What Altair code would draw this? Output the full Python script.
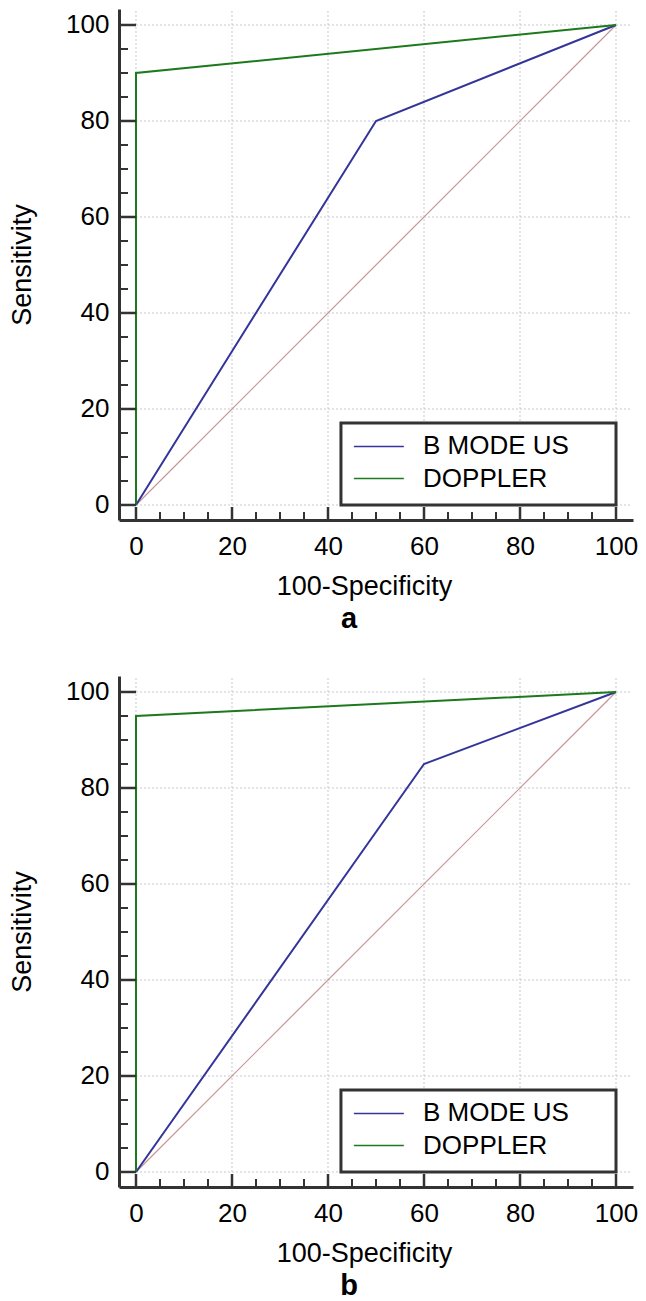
import altair as alt
import pandas as pd

# ---------------- data ----------------
SERIES = ["B MODE US", "DOPPLER"]
SERIES_COLORS = ["#34349a", "#1c7a1c"]

A_BMODE_X = [0, 50, 100]
A_BMODE_Y = [0, 80, 100]
A_DOPPLER_X = [0, 0, 100]
A_DOPPLER_Y = [0, 90, 100]

B_BMODE_X = [0, 60, 100]
B_BMODE_Y = [0, 85, 100]
B_DOPPLER_X = [0, 0, 100]
B_DOPPLER_Y = [0, 95, 100]

DIAG_X = [0]
DIAG_Y = [0]
DIAG_X2 = [100]
DIAG_Y2 = [100]

MAJOR = [0, 20, 40, 60, 80, 100]
MINOR = [5, 10, 15, 25, 30, 35, 45, 50, 55, 65, 70, 75, 85, 90, 95]

PANEL_LABELS = ["a", "b"]
X_TITLE = "100-Specificity"
Y_TITLE = "Sensitivity"

# ---------------- layout / style ----------------
W = 514
H = 511
X_DOMAIN = [-3.54, 103.54]
Y_DOMAIN = [-3.13, 103.33]
GRID_RIGHT = 103.0
GRID_TOP = 103.33
LEG_X0, LEG_X1, LEG_TOP = 42.7, 100.0, 17.1
LEG_LINE_X0, LEG_LINE_X1, LEG_TEXT_X = 45.4, 55.8, 59.8
LEG_ROWS = [12.2, 5.5]
FONT = "Liberation Sans"
AXIS_COLOR = "#333333"
GRID_COLOR = "#c8c8d0"
DIAG_COLOR = "#c89494"

xscale = alt.Scale(domain=X_DOMAIN, nice=False, zero=False)
yscale = alt.Scale(domain=Y_DOMAIN, nice=False, zero=False)
xaxis = alt.Axis(values=MAJOR, format="d", labelPadding=13, titlePadding=14,
                 titleX=245)
yaxis = alt.Axis(values=MAJOR, format="d", labelPadding=10, titlePadding=29)
colscale = alt.Scale(domain=SERIES, range=SERIES_COLORS)


def make_panel(bx, by, dx, dy, label):
    X = alt.X("x:Q", scale=xscale, axis=xaxis, title=X_TITLE)
    Y = alt.Y("y:Q", scale=yscale, axis=yaxis, title=Y_TITLE)

    vgrid = pd.DataFrame({"x": MAJOR, "y": [0] * len(MAJOR), "y2": [GRID_TOP] * len(MAJOR)})
    hgrid = pd.DataFrame({"y": MAJOR, "x": [0] * len(MAJOR), "x2": [GRID_RIGHT] * len(MAJOR)})
    grid_v = alt.Chart(vgrid).mark_rule(stroke=GRID_COLOR, strokeDash=[2, 2], strokeWidth=1).encode(
        x=X, y=Y, y2="y2:Q")
    grid_h = alt.Chart(hgrid).mark_rule(stroke=GRID_COLOR, strokeDash=[2, 2], strokeWidth=1).encode(
        y=Y, x=X, x2="x2:Q")

    diag = alt.Chart(pd.DataFrame({"x": DIAG_X, "y": DIAG_Y, "x2": DIAG_X2, "y2": DIAG_Y2})).mark_rule(
        stroke=DIAG_COLOR, strokeWidth=1.2).encode(x=X, y=Y, x2="x2:Q", y2="y2:Q")

    rows = []
    for name, xs, ys in [(SERIES[0], bx, by), (SERIES[1], dx, dy)]:
        for i, (xv, yv) in enumerate(zip(xs, ys)):
            rows.append({"series": name, "x": xv, "y": yv, "order": i})
    lines = alt.Chart(pd.DataFrame(rows)).mark_line(strokeWidth=2).encode(
        x=X, y=Y,
        color=alt.Color("series:N", scale=colscale, legend=None),
        order="order:Q")

    box = alt.Chart(pd.DataFrame({"x": [LEG_X0], "x2": [LEG_X1], "y": [0], "y2": [LEG_TOP]})).mark_rect(
        fill="white", stroke=AXIS_COLOR, strokeWidth=3).encode(x=X, x2="x2:Q", y=Y, y2="y2:Q")

    leg = pd.DataFrame({"series": SERIES, "x": [LEG_LINE_X0] * 2, "x2": [LEG_LINE_X1] * 2,
                        "y": LEG_ROWS, "tx": [LEG_TEXT_X] * 2})
    leg_lines = alt.Chart(leg).mark_rule(strokeWidth=1.5).encode(
        x=X, x2="x2:Q", y=Y, color=alt.Color("series:N", scale=colscale, legend=None))
    leg_text = alt.Chart(leg).mark_text(align="left", baseline="middle", fontSize=26,
                                        font=FONT, color="black").encode(
        x=alt.X("tx:Q", scale=xscale, axis=xaxis, title=X_TITLE), y=Y, text="series:N")

    xt_major = alt.Chart(pd.DataFrame({"x": MAJOR})).mark_rule(color=AXIS_COLOR, strokeWidth=2.5).encode(
        x=X, y=alt.value(H), y2=alt.value(H - 13))
    xt_minor = alt.Chart(pd.DataFrame({"x": MINOR})).mark_rule(color=AXIS_COLOR, strokeWidth=2).encode(
        x=X, y=alt.value(H), y2=alt.value(H - 8))
    yt_major = alt.Chart(pd.DataFrame({"y": MAJOR})).mark_rule(color=AXIS_COLOR, strokeWidth=2.5).encode(
        y=Y, x=alt.value(0), x2=alt.value(17))
    yt_minor = alt.Chart(pd.DataFrame({"y": MINOR})).mark_rule(color=AXIS_COLOR, strokeWidth=2).encode(
        y=Y, x=alt.value(0), x2=alt.value(9))

    return alt.layer(grid_v, grid_h, diag, lines, box, leg_lines, leg_text,
                     xt_major, xt_minor, yt_major, yt_minor).properties(
        width=W, height=H,
        title=alt.TitleParams(text=label, orient="bottom", anchor="middle", fontSize=29,
                              fontWeight="bold", font=FONT, color="black", dx=-27, offset=6))


pa = make_panel(A_BMODE_X, A_BMODE_Y, A_DOPPLER_X, A_DOPPLER_Y, PANEL_LABELS[0])
pb = make_panel(B_BMODE_X, B_BMODE_Y, B_DOPPLER_X, B_DOPPLER_Y, PANEL_LABELS[1])

chart = alt.vconcat(pa, pb, spacing=41).properties(padding=0).configure_view(
    stroke=None).configure_axis(
    domainColor=AXIS_COLOR, domainWidth=3, ticks=False, tickSize=0, grid=False,
    labelFont=FONT, labelFontSize=26, labelColor="black",
    titleFont=FONT, titleFontSize=27, titleFontWeight="normal", titleColor="black")

chart.save("out.html", embed_options={"renderer": "svg", "actions": False})
